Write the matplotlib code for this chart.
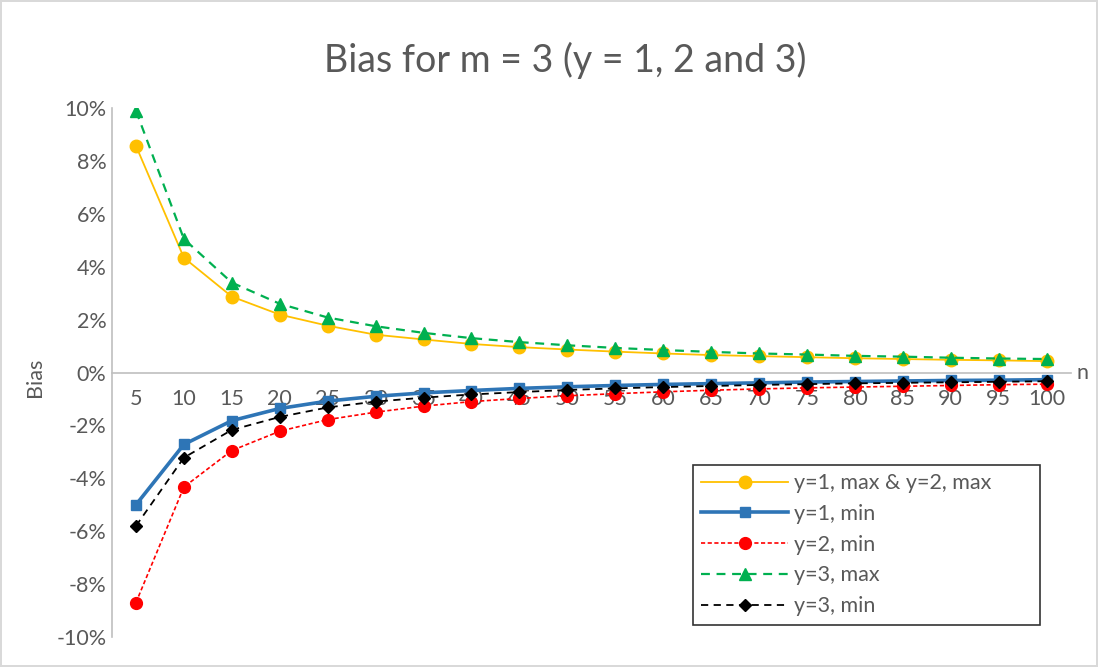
import matplotlib.pyplot as plt
from matplotlib.ticker import FuncFormatter

plt.rcParams['font.family'] = ['Lato', 'DejaVu Sans']

n_values = [5, 10, 15, 20, 25, 30, 35, 40, 45, 50, 55, 60, 65, 70, 75, 80, 85, 90, 95, 100]

y1_max = [8.57, 4.34, 2.87, 2.19, 1.77, 1.43, 1.25, 1.08, 0.96, 0.87, 0.79, 0.72, 0.66, 0.62, 0.58, 0.54, 0.51, 0.48, 0.46, 0.43]
y1_min = [-5.0, -2.72, -1.82, -1.36, -1.08, -0.9, -0.77, -0.68, -0.6, -0.54, -0.49, -0.45, -0.42, -0.39, -0.36, -0.34, -0.32, -0.3, -0.29, -0.27]
y2_min = [-8.7, -4.33, -2.95, -2.22, -1.78, -1.5, -1.27, -1.1, -0.98, -0.88, -0.8, -0.73, -0.67, -0.62, -0.58, -0.55, -0.52, -0.49, -0.46, -0.44]
y3_max = [9.9, 5.05, 3.4, 2.6, 2.08, 1.75, 1.5, 1.3, 1.15, 1.03, 0.93, 0.85, 0.78, 0.72, 0.68, 0.63, 0.6, 0.56, 0.53, 0.51]
y3_min = [-5.8, -3.22, -2.17, -1.68, -1.32, -1.1, -0.95, -0.83, -0.74, -0.66, -0.6, -0.55, -0.51, -0.47, -0.44, -0.41, -0.39, -0.37, -0.35, -0.33]

text_color = '#595959'
fs = 15.5

fig = plt.figure(figsize=(10.98, 6.67), dpi=100)
fig.patch.set_edgecolor('#d9d9d9')
fig.patch.set_linewidth(1.5)
ax = fig.add_axes([0.102, 0.045, 0.873, 0.793])

x = list(range(len(n_values)))

ax.plot(x, y1_max, color='#FFC000', lw=1.3, marker='o', ms=9, label='y=1, max & y=2, max')
ax.plot(x, y1_min, color='#2E75B6', lw=2.6, marker='s', ms=6.5, label='y=1, min')
ax.plot(x, y2_min, color='#FF0000', lw=1.2, ls=(0, (2.5, 1.5)), marker='o', ms=8.5, label='y=2, min')
ax.plot(x, y3_max, color='#00B050', lw=1.6, ls=(0, (4, 3)), marker='^', ms=9, label='y=3, max')
ax.plot(x, y3_min, color='black', lw=1.3, ls=(0, (4, 3)), marker='D', ms=6.5, label='y=3, min')

ax.set_xlim(-0.5, len(n_values) - 0.5)
ax.set_ylim(-10, 10)
ax.set_yticks(range(-10, 11, 2))
ax.yaxis.set_major_formatter(FuncFormatter(lambda v, p: f'{v:.0f}%'))
ax.set_xticks(x)
ax.set_xticklabels([str(v) for v in n_values])

for side in ['top', 'right']:
    ax.spines[side].set_visible(False)
ax.spines['bottom'].set_position(('data', 0))
ax.spines['bottom'].set_color('#bfbfbf')
ax.spines['bottom'].set_linewidth(1.2)
ax.spines['left'].set_color('#bfbfbf')
ax.spines['left'].set_linewidth(1.2)
ax.tick_params(length=0, labelsize=fs, labelcolor=text_color)
ax.tick_params(axis='x', pad=12)
ax.tick_params(axis='y', pad=4)

ax.set_ylabel('Bias', fontsize=fs, color=text_color)
ax.yaxis.set_label_coords(-0.07, 0.49)
ax.text(1.006, 0.5, 'n', transform=ax.transAxes, fontsize=fs, color=text_color, va='center', ha='left')

fig.text(0.515, 0.91, 'Bias for m = 3 (y = 1, 2 and 3)', fontsize=27, color=text_color, ha='center', va='center')

leg = ax.legend(loc='lower left', bbox_to_anchor=(0.606, 0.023, 0.362, 0.308), mode='expand',
                borderaxespad=0, fontsize=fs, frameon=True, fancybox=False, edgecolor='black',
                handlelength=4, borderpad=0.4, labelspacing=0.5, handletextpad=0.3)
leg.get_frame().set_linewidth(1.2)
for t in leg.get_texts():
    t.set_color(text_color)

fig.savefig('out.png', dpi=100)
